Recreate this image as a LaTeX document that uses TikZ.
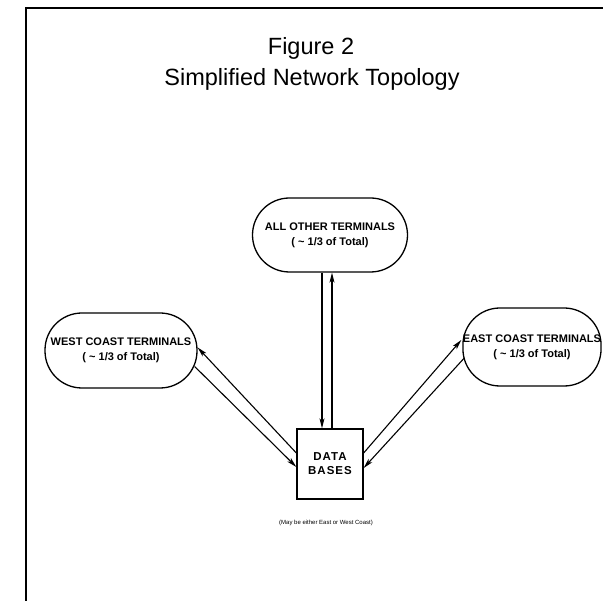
\documentclass[tikz,border=0pt]{standalone}
\usepackage{fontspec}
\setmainfont{Liberation Sans}
\newfontfamily\dbfont[LetterSpace=9]{Liberation Sans}
\usetikzlibrary{arrows.meta}
\tikzset{
  term/.style={draw, line width=1.3pt, rectangle, rounded corners=37pt,
    inner sep=0pt, align=center,
    font=\bfseries\fontsize{11}{15}\selectfont},
  dbbox/.style={draw, line width=1.3pt, rectangle, inner sep=0pt,
    minimum width=66pt, minimum height=70pt, align=center,
    font=\dbfont\bfseries\fontsize{11.5}{14}\selectfont},
  link/.style={line width=1.1pt, -{Stealth[length=10pt,width=5pt,inset=2.5pt]}},
  frameline/.style={line width=1.6pt},
  titletext/.style={font=\fontsize{23.5}{27}\selectfont, anchor=base},
}
\begin{document}
\begin{tikzpicture}[x=1pt, y=-1pt]
\useasboundingbox (0,0) rectangle (603,601);

% page frame (left and top edges)
\coordinate (fbl) at (26,601);
\coordinate (ftl) at (26,8);
\coordinate (ftr) at (603,8);
\draw[frameline] (fbl) -- (ftl) -- (ftr);

% title
\node[titletext] (t1) at (311,55) {Figure 2};
\node[titletext] (t2) at (312,86) {Simplified Network Topology};

% terminal groups
\node[term, minimum width=155pt, minimum height=74pt] (all) at (330,235)
  {ALL OTHER TERMINALS\\( \textasciitilde\ 1/3 of Total)};
\node[term, minimum width=152pt, minimum height=75pt] (wct) at (121,350.5)
  {WEST COAST TERMINALS\\( \textasciitilde\ 1/3 of Total)};
\node[term, minimum width=138pt, minimum height=78pt] (ect) at (532,347)
  {EAST COAST TERMINALS\\( \textasciitilde\ 1/3 of Total)};

% data bases
\node[dbbox] (db) at (330,464) {DATA\\BASES};
\node[font=\fontsize{6}{7}\selectfont] (note) at (326,523)
  {(May be either East or West Coast)};

% links to the top group
\draw[link] ([xshift=-8pt]all.south) -- ([xshift=-8pt]db.north);
\draw[link] ([xshift=2pt]db.north) -- ([xshift=2pt]all.south);

% links to the west group
\draw[link] ([yshift=11pt]db.west) -- ([yshift=3pt]wct.east);
\draw[link] ([xshift=-3pt,yshift=-16pt]wct.east) -- ([yshift=-3pt]db.west);

% links to the east group
\draw[link] ([yshift=11pt]db.east) -- ([xshift=-1pt,yshift=7pt]ect.west);
\draw[link] ([xshift=2pt,yshift=-11pt]ect.west) -- ([yshift=-4pt]db.east);
\end{tikzpicture}
\end{document}
